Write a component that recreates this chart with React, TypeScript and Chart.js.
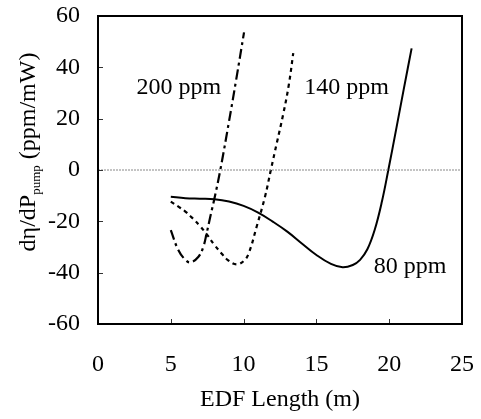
import React, { useEffect, useRef } from "react";
import { Chart, registerables } from "chart.js";

Chart.register(...registerables);

// Data
const x80 = [5, 6, 7, 8, 9, 10, 11, 12, 13, 14, 15, 16, 16.8, 17.5, 18, 18.5, 19, 19.5, 19.94, 20.5, 21, 21.54];
const y80 = [-10.4, -11, -11.2, -11.4, -12.3, -14, -16.6, -20.1, -24, -28.6, -33.1, -36.6, -37.9, -37, -35, -30.9, -23.4, -12.3, 0, 16.5, 31.5, 47.4];

const x140 = [5, 5.5, 6, 6.5, 7, 7.5, 8, 8.5, 8.9, 9.5, 10, 10.35, 10.9, 11.47, 11.87, 12.3, 12.73, 13.1, 13.41];
const y140 = [-12.3, -14.2, -16.2, -18.8, -21.8, -25.3, -29.2, -32.6, -35, -36.8, -35.5, -32.5, -22, -10.4, 0, 11, 22, 33, 45.5];

const x200 = [5, 5.5, 6, 6.35, 6.9, 7.23, 7.46, 7.7, 8.0, 8.4, 9.0, 9.5, 10.03];
const y200 = [-23.4, -31, -35, -36, -33.8, -30, -24.7, -18.5, -11, 0, 19, 35.5, 53.6];

const xTicks = [0, 5, 10, 15, 20, 25];
const yTicks = [-60, -40, -20, 0, 20, 40, 60];

const labelTexts = ["200 ppm", "140 ppm", "80 ppm"];
const labelX = [5.56, 17.08, 21.43];
const labelY = [29.6, 29.6, -40.2];

const xTitle = "EDF Length (m)";
const yTitleMain = "dη/dP";
const yTitleSub = "pump";
const yTitleUnit = " (ppm/mW)";

const FONT = "'Liberation Serif', 'Times New Roman', serif";

const toPts = (xs: number[], ys: number[]) => xs.map((x, i) => ({ x, y: ys[i] }));

const framePlugin = {
  id: "framePlugin",
  afterDraw(chart: any) {
    const { ctx, chartArea, scales } = chart;
    const xs = scales.x;
    const ys = scales.y;
    ctx.save();
    // inward ticks
    ctx.strokeStyle = "#333";
    ctx.lineWidth = 1;
    xTicks.forEach((v) => {
      const px = Math.round(xs.getPixelForValue(v)) + 0.5;
      ctx.beginPath();
      ctx.moveTo(px, chartArea.bottom);
      ctx.lineTo(px, chartArea.bottom - 5);
      ctx.stroke();
    });
    yTicks.forEach((v) => {
      const py = Math.round(ys.getPixelForValue(v)) + 0.5;
      ctx.beginPath();
      ctx.moveTo(chartArea.left, py);
      ctx.lineTo(chartArea.left + 5, py);
      ctx.stroke();
    });
    // box
    ctx.strokeStyle = "#000";
    ctx.lineWidth = 2;
    ctx.strokeRect(chartArea.left, chartArea.top, chartArea.right - chartArea.left, chartArea.bottom - chartArea.top);

    // series labels
    ctx.fillStyle = "#000";
    ctx.font = `24px ${FONT}`;
    ctx.textAlign = "center";
    ctx.textBaseline = "alphabetic";
    labelTexts.forEach((t, i) => {
      ctx.fillText(t, xs.getPixelForValue(labelX[i]), ys.getPixelForValue(labelY[i]));
    });

    // y title with subscript
    const mainFont = `24px ${FONT}`;
    const subFont = `13px ${FONT}`;
    ctx.font = mainFont;
    const w1 = ctx.measureText(yTitleMain).width;
    const w3 = ctx.measureText(yTitleUnit).width;
    ctx.font = subFont;
    const w2 = ctx.measureText(yTitleSub).width;
    const total = w1 + w2 + w3;
    const cy = 152;
    ctx.translate(35, cy);
    ctx.rotate(-Math.PI / 2);
    ctx.textAlign = "left";
    let sx = -total / 2;
    ctx.font = mainFont;
    ctx.fillText(yTitleMain, sx, 0);
    sx += w1;
    ctx.font = subFont;
    ctx.fillText(yTitleSub, sx, 5);
    sx += w2;
    ctx.font = mainFont;
    ctx.fillText(yTitleUnit, sx, 0);
    ctx.restore();
  },
};

export default function App() {
  const ref = useRef<HTMLCanvasElement | null>(null);
  useEffect(() => {
    if (!ref.current) return;
    const chart = new Chart(ref.current, {
      type: "line",
      data: {
        datasets: [
          {
            data: [{ x: 0, y: 0 }, { x: 25, y: 0 }],
            borderColor: "#888",
            borderWidth: 1,
            borderDash: [2, 1],
            pointRadius: 0,
          },
          {
            data: toPts(x80, y80),
            borderColor: "#000",
            borderWidth: 2,
            pointRadius: 0,
            tension: 0.4,
          },
          {
            data: toPts(x140, y140),
            borderColor: "#000",
            borderWidth: 2.2,
            borderDash: [4, 4],
            pointRadius: 0,
            tension: 0.4,
          },
          {
            data: toPts(x200, y200),
            borderColor: "#000",
            borderWidth: 2.2,
            borderDash: [10, 4, 3, 4],
            pointRadius: 0,
            tension: 0.4,
          },
        ],
      },
      options: {
        responsive: false,
        animation: false,
        devicePixelRatio: 1,
        layout: { padding: { top: 16, right: 19, left: 0, bottom: 0 } },
        plugins: { legend: { display: false }, tooltip: { enabled: false } },
        scales: {
          x: {
            type: "linear",
            min: 0,
            max: 25,
            afterBuildTicks: (s: any) => {
              s.ticks = xTicks.map((v) => ({ value: v }));
            },
            afterFit: (s: any) => {
              s.height = 95;
              s.paddingLeft = 0;
              s.paddingRight = 0;
            },
            ticks: { color: "#000", font: { family: FONT, size: 24 }, padding: 26, maxRotation: 0 },
            grid: { display: false, drawTicks: false },
            border: { display: false },
            title: {
              display: true,
              text: xTitle,
              color: "#000",
              font: { family: FONT, size: 24 },
              padding: { top: 0, bottom: 5 },
            },
          },
          y: {
            type: "linear",
            min: -60,
            max: 60,
            afterBuildTicks: (s: any) => {
              s.ticks = yTicks.map((v) => ({ value: v }));
            },
            afterFit: (s: any) => {
              s.width = 98;
              s.paddingTop = 0;
              s.paddingBottom = 0;
            },
            ticks: { color: "#000", font: { family: FONT, size: 24 }, padding: 18 },
            grid: { display: false, drawTicks: false },
            border: { display: false },
          },
        },
      },
      plugins: [framePlugin],
    } as any);
    return () => chart.destroy();
  }, []);
  return (
    <div style={{ position: "fixed", left: 0, top: 0, width: 481, height: 419, background: "#fff" }}>
      <canvas ref={ref} width={481} height={419} style={{ width: 481, height: 419, display: "block" }} />
    </div>
  );
}
